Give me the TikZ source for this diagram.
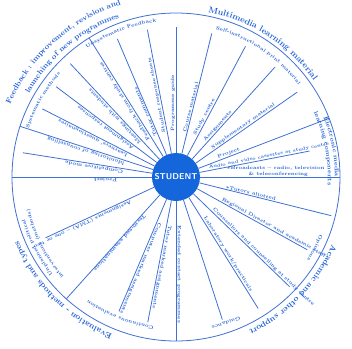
\documentclass[tikz,border=0pt]{standalone}
\usepackage{tikz}
\usetikzlibrary{decorations.text}
\definecolor{inkblue}{HTML}{1F5FD6}
\definecolor{lineblue}{HTML}{3F70D2}
\definecolor{studblue}{HTML}{1466DA}

\begin{document}
\begin{tikzpicture}[
    x=1bp, y=1bp,
    spoke/.style={draw=lineblue, line width=0.8pt},
    ray/.style={font=\fontsize{4.8}{5.4}\selectfont\bfseries, text=inkblue, inner sep=0.8pt, anchor=south west},
    hub/.style={circle, fill=studblue, minimum size=48bp, inner sep=0pt, text=white, font=\sffamily\bfseries\fontsize{8.5}{9}\selectfont},
    arctext/.style 2 args={decorate, decoration={text along path, text align=center,
      text={|\fontsize{#1}{#1}\selectfont\bfseries\color{inkblue}|#2}}}
  ]
  \useasboundingbox (-176,-172) rectangle (176,177);
  \node[circle, draw=lineblue, line width=0.8pt, minimum size=328bp, inner sep=0pt] (rim) at (0,0) {};
  \node[hub] (stu) at (0,0) {STUDENT};
  % electronic media
  \coordinate (brd) at (0:164);
  \draw[spoke] (stu) -- (brd);
  \node[ray, align=left] (brd-t) at (0:50) {\textasteriskcentered Broadcasts -- radio, television\\\hspace*{4.5em}\& teleconferencing};
  \coordinate (avc) at (11:136);
  \draw[spoke] (stu) -- (avc);
  \node[ray, rotate=11, font=\fontsize{4.4}{5}\selectfont\bfseries] (avc-t) at (11:33) {Audio and video cassettes at study centre};
  \coordinate (prj) at (21:164);
  \draw[spoke] (stu) -- (prj);
  \node[ray, rotate=21] (prj-t) at (21:45) {Project};
  % multimedia
  \coordinate (sup) at (35:148);
  \draw[spoke] (stu) -- (sup);
  \node[ray, rotate=35] (sup-t) at (35:45) {Supplementary material};
  \coordinate (asg) at (48:148);
  \draw[spoke] (stu) -- (asg);
  \node[ray, rotate=48] (asg-t) at (48:45) {Assignments};
  \coordinate (stc) at (62:148);
  \draw[spoke] (stu) -- (stc);
  \node[ray, rotate=62] (stc-t) at (62:45) {Study centre};
  \coordinate (crs) at (76:148);
  \draw[spoke] (stu) -- (crs);
  \node[ray, rotate=76] (crs-t) at (76:45) {Course material};
  \coordinate (pgd) at (90:150);
  \draw[spoke] (stu) -- (pgd);
  \node[ray, rotate=90] (pgd-t) at (90:45) {Programme guide};
  % feedback
  \coordinate (srs) at (101:150);
  \draw[spoke] (stu) -- (srs);
  \node[ray, rotate=101] (srs-t) at (101:45) {Student response sheets};
  \coordinate (tca) at (113:150);
  \draw[spoke] (stu) -- (tca);
  \node[ray, rotate=113] (tca-t) at (113:45) {Tutor comments};
  \coordinate (fsc) at (122:164);
  \draw[spoke] (stu) -- (fsc);
  \node[ray, rotate=122] (fsc-t) at (122:45) {Feedback from study centres};
  \coordinate (mws) at (133:155);
  \draw[spoke] (stu) -- (mws);
  \node[ray, rotate=133] (mws-t) at (133:48) {Meetings with students};
  \coordinate (asr) at (143:150);
  \draw[spoke] (stu) -- (asr);
  \node[ray, rotate=143] (asr-t) at (143:50) {Assignment responses};
  \coordinate (lqs) at (153:150);
  \draw[spoke] (stu) -- (lqs);
  \node[ray, rotate=153] (lqs-t) at (153:52) {Learners' questionnaires};
  \coordinate (mon) at (162:164);
  \draw[spoke] (stu) -- (mon);
  \node[ray, rotate=162] (mon-t) at (162:52) {Monitoring of counselling};
  \coordinate (cmp) at (171:155);
  \draw[spoke] (stu) -- (cmp);
  \node[ray, rotate=171] (cmp-t) at (171:52) {Competitive mode};
  \coordinate (prj2) at (180:164);
  \draw[spoke] (stu) -- (prj2);
  \node[ray, rotate=180] (prj2-t) at (180:58) {Project};
  % evaluation
  \coordinate (asn) at (-155:144);
  \draw[spoke] (stu) -- (asn);
  \node[ray, rotate=-155] (asn-t) at (-155:50) {Assignments (TMA) -- one or two};
  \coordinate (tee) at (-132:164);
  \draw[spoke] (stu) -- (tee);
  \node[ray, rotate=-132] (tee-t) at (-132:48) {Term-end examinations};
  \coordinate (cma) at (-113:146);
  \draw[spoke] (stu) -- (cma);
  \node[ray, rotate=-113] (cma-t) at (-113:48) {Computer marked assignments};
  \coordinate (tma) at (-101:148);
  \draw[spoke] (stu) -- (tma);
  \node[ray, rotate=-101] (tma-t) at (-101:48) {Tutor marked assignments};
  \coordinate (ecp) at (-90:164);
  \draw[spoke] (stu) -- (ecp);
  \node[ray, rotate=-90] (ecp-t) at (-90:48) {Extended contact programmes};
  % academic support
  \coordinate (gdc) at (-72:150);
  \draw[spoke] (stu) -- (gdc);
  \coordinate (lab) at (-58:155);
  \draw[spoke] (stu) -- (lab);
  \node[ray, rotate=-58] (lab-t) at (-58:48) {Laboratory work/practicals};
  \coordinate (cns) at (-44:158);
  \draw[spoke] (stu) -- (cns);
  \node[ray, rotate=-44] (cns-t) at (-44:48) {Counsellors and counselling at study centre};
  \coordinate (rds) at (-29:150);
  \draw[spoke] (stu) -- (rds);
  \node[ray, rotate=-29] (rds-t) at (-29:50) {Regional Director and academic staff};
  \coordinate (tut) at (-14:160);
  \draw[spoke] (stu) -- (tut);
  \node[ray, rotate=-14] (tut-t) at (-14:50) {\textasteriskcentered Tutors allotted};
  % labels round the rim
  \path[arctext={8.5}{Multimedia learning material}] (86:168) arc[start angle=86, end angle=28, radius=168bp];
  \path[arctext={7.5}{Feedback : improvement{,} revision and}] (162:181) arc[start angle=162, end angle=102, radius=181bp];
  \path[arctext={7.5}{launching of new programmes}] (152:169) arc[start angle=152, end angle=108, radius=169bp];
  \path[arctext={8}{Academic and other support}] (-18:170) arc[start angle=-18, end angle=-70, radius=170bp];
  \path[arctext={8}{Evaluation - methods and types}] (-106:170) arc[start angle=-106, end angle=-164, radius=170bp];
  \path[arctext={6}{Electronic media}] (26:159) arc[start angle=26, end angle=-4, radius=159bp];
  \path[arctext={6}{learning components}] (28:152) arc[start angle=28, end angle=-6, radius=152bp];
  \path[arctext={4.8}{Self-instructional print material}] (80:153) arc[start angle=80, end angle=32, radius=153bp];
  \path[arctext={4.8}{Unsystematic Feedback}] (127:156) arc[start angle=127, end angle=95, radius=156bp];
  \path[arctext={4.8}{Systematic methods}] (166:155) arc[start angle=166, end angle=134, radius=155bp];
  \path[arctext={4.8}{Opinions}] (-12:155) arc[start angle=-12, end angle=-42, radius=155bp];
  \path[arctext={4.8}{Guidance}] (-58:153) arc[start angle=-58, end angle=-84, radius=153bp];
  \path[arctext={4.8}{Continuous evaluation}] (-96:151) arc[start angle=-96, end angle=-128, radius=151bp];
  \path[arctext={4.8}{Unplanned political}] (-138:157) arc[start angle=-138, end angle=-168, radius=157bp];
  \path[arctext={4.8}{interventions (methods)}] (-136:150) arc[start angle=-136, end angle=-170, radius=150bp];
\end{tikzpicture}
\end{document}
